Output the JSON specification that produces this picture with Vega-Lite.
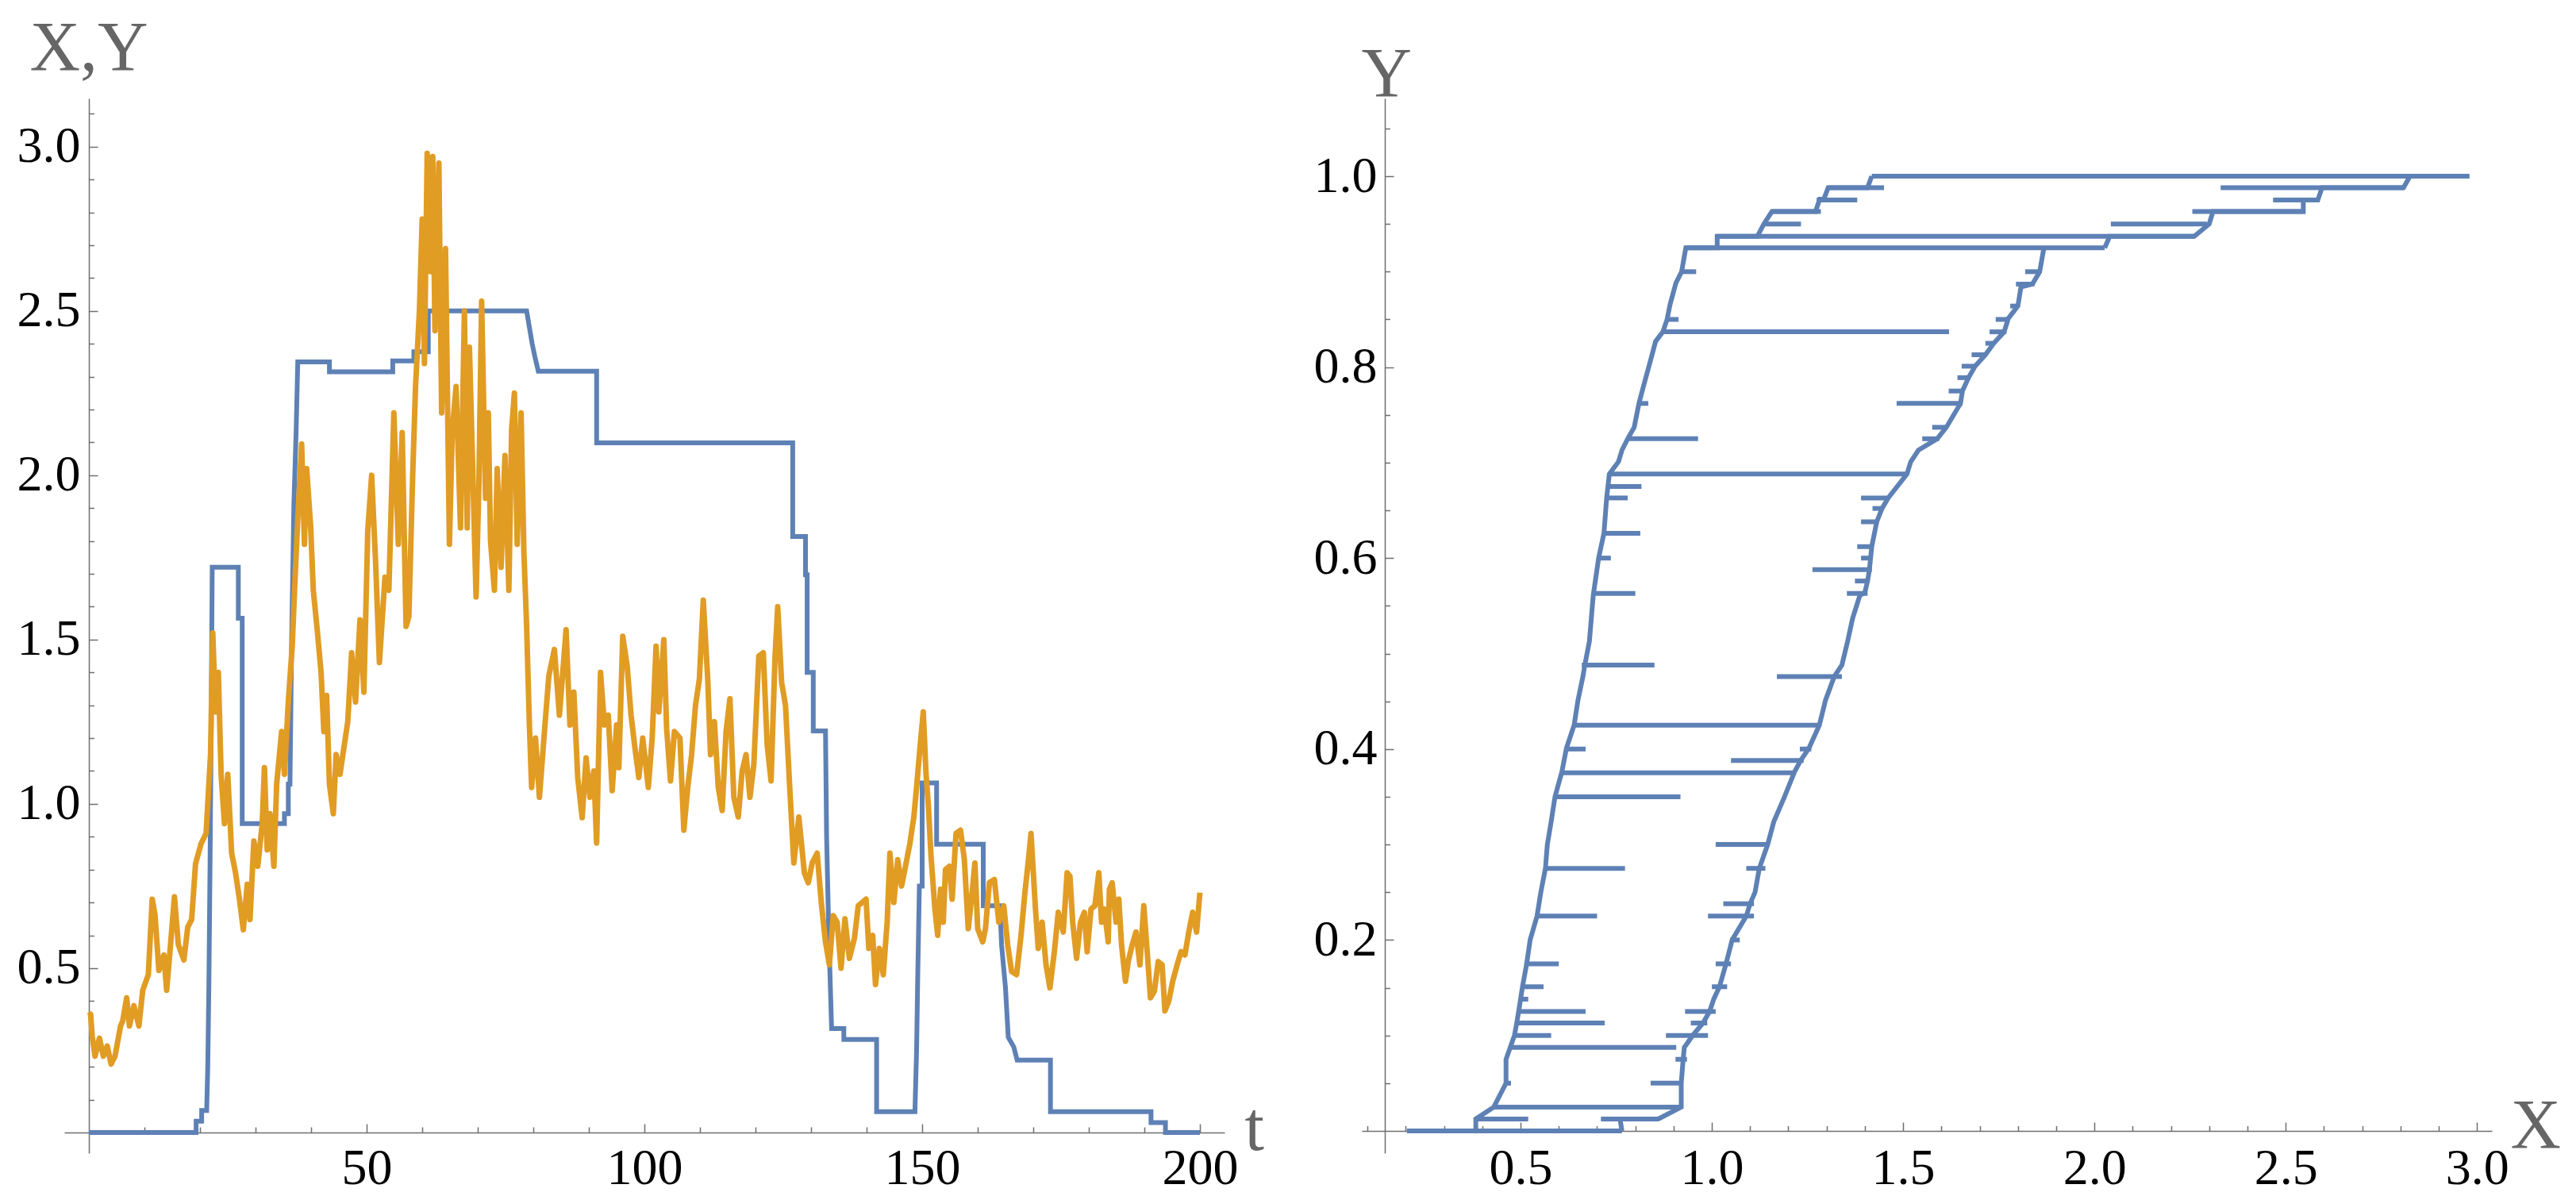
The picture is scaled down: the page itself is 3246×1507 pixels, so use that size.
{
  "$schema": "https://vega.github.io/schema/vega-lite/v6.json",
  "background": "white",
  "padding": {"left": 21, "top": 17, "right": 21, "bottom": 3},
  "bounds": "flush",
  "spacing": 173,
  "config": {
    "view": {"stroke": null},
    "axis": {
      "grid": false,
      "domainColor": "#6e6e6e",
      "domainWidth": 1.5,
      "tickColor": "#6e6e6e",
      "tickWidth": 1.5,
      "labelFont": "Liberation Serif, Times New Roman, serif",
      "labelFontSize": 64,
      "labelColor": "#000000",
      "labelOverlap": false,
      "labelFlush": false,
      "labelBound": false,
      "titleFont": "Liberation Serif, Times New Roman, serif",
      "titleFontSize": 88,
      "titleFontWeight": "normal",
      "titleColor": "#666666",
      "titleAngle": 0,
      "titleAlign": "left",
      "titleBaseline": "alphabetic",
      "titlePadding": 0
    }
  },
  "datasets": {
    "Y_t": [
      {"t":0,"v":0},{"t":19.3,"v":0},{"t":19.3,"v":0.034},{"t":20.3,"v":0.034},{"t":20.3,"v":0.067},{"t":21.2,"v":0.067},{"t":21.4,"v":0.2},{"t":21.6,"v":0.45},{"t":21.8,"v":0.8},{"t":22.0,"v":1.2},{"t":22.2,"v":1.72},{"t":26.9,"v":1.72},{"t":26.9,"v":1.565},{"t":27.6,"v":1.565},{"t":27.6,"v":0.94},{"t":35.2,"v":0.94},{"t":35.2,"v":0.97},{"t":35.9,"v":0.97},{"t":35.9,"v":1.06},{"t":36.2,"v":1.06},{"t":36.5,"v":1.5},{"t":36.9,"v":1.91},{"t":37.3,"v":2.13},{"t":37.6,"v":2.345},{"t":43.3,"v":2.345},{"t":43.3,"v":2.315},{"t":54.7,"v":2.315},{"t":54.7,"v":2.348},{"t":58.5,"v":2.348},{"t":58.5,"v":2.376},{"t":61.1,"v":2.376},{"t":61.1,"v":2.5},{"t":78.8,"v":2.5},{"t":79.3,"v":2.45},{"t":79.8,"v":2.4},{"t":80.3,"v":2.36},{"t":80.9,"v":2.317},{"t":91.4,"v":2.317},{"t":91.4,"v":2.099},{"t":126.7,"v":2.099},{"t":126.7,"v":1.814},{"t":129.0,"v":1.814},{"t":129.0,"v":1.697},{"t":129.3,"v":1.697},{"t":129.3,"v":1.4},{"t":130.4,"v":1.4},{"t":130.4,"v":1.222},{"t":132.6,"v":1.222},{"t":132.8,"v":0.9},{"t":133.2,"v":0.6},{"t":133.7,"v":0.316},{"t":135.9,"v":0.316},{"t":135.9,"v":0.283},{"t":141.8,"v":0.283},{"t":141.8,"v":0.063},{"t":148.7,"v":0.063},{"t":149.0,"v":0.25},{"t":149.2,"v":0.47},{"t":149.5,"v":0.75},{"t":150.0,"v":0.75},{"t":150.0,"v":1.064},{"t":152.6,"v":1.064},{"t":152.6,"v":0.877},{"t":161.0,"v":0.877},{"t":161.0,"v":0.69},{"t":164.0,"v":0.69},{"t":164.3,"v":0.57},{"t":165.0,"v":0.44},{"t":165.5,"v":0.29},{"t":166.5,"v":0.26},{"t":167.1,"v":0.22},{"t":173.1,"v":0.22},{"t":173.1,"v":0.063},{"t":191.2,"v":0.063},{"t":191.2,"v":0.03},{"t":193.8,"v":0.03},{"t":193.8,"v":0},{"t":200,"v":0}
    ],
    "X_t": [
      {"t":0,"v":0.355},{"t":0.3,"v":0.36},{"t":0.6,"v":0.293},{"t":1.1,"v":0.232},{"t":1.9,"v":0.287},{"t":2.6,"v":0.232},{"t":3.3,"v":0.263},{"t":4.0,"v":0.208},{"t":4.7,"v":0.232},{"t":5.7,"v":0.324},{"t":6.1,"v":0.34},{"t":6.8,"v":0.41},{"t":7.3,"v":0.324},{"t":8.1,"v":0.386},{"t":9.0,"v":0.324},{"t":9.7,"v":0.433},{"t":10.7,"v":0.48},{"t":11.4,"v":0.71},{"t":11.9,"v":0.663},{"t":12.6,"v":0.493},{"t":13.5,"v":0.54},{"t":14.0,"v":0.433},{"t":14.7,"v":0.572},{"t":15.4,"v":0.717},{"t":16.1,"v":0.572},{"t":17.1,"v":0.525},{"t":17.8,"v":0.625},{"t":18.5,"v":0.648},{"t":19.2,"v":0.818},{"t":20.2,"v":0.879},{"t":21.1,"v":0.91},{"t":21.9,"v":1.15},{"t":22.3,"v":1.52},{"t":22.8,"v":1.28},{"t":23.3,"v":1.4},{"t":23.8,"v":1.09},{"t":24.4,"v":0.94},{"t":25.0,"v":1.09},{"t":25.7,"v":0.85},{"t":26.4,"v":0.79},{"t":27.1,"v":0.71},{"t":27.8,"v":0.617},{"t":28.5,"v":0.755},{"t":29.0,"v":0.648},{"t":29.7,"v":0.887},{"t":30.4,"v":0.81},{"t":31.2,"v":0.94},{"t":31.6,"v":1.11},{"t":32.1,"v":0.86},{"t":32.6,"v":0.97},{"t":33.3,"v":0.81},{"t":33.8,"v":1.06},{"t":34.7,"v":1.22},{"t":35.2,"v":1.09},{"t":35.9,"v":1.31},{"t":36.6,"v":1.48},{"t":37.1,"v":1.68},{"t":37.6,"v":1.865},{"t":38.3,"v":2.095},{"t":38.8,"v":1.79},{"t":39.2,"v":2.02},{"t":39.9,"v":1.85},{"t":40.4,"v":1.65},{"t":41.1,"v":1.53},{"t":41.8,"v":1.4},{"t":42.3,"v":1.22},{"t":42.8,"v":1.33},{"t":43.3,"v":1.06},{"t":44.0,"v":0.97},{"t":44.5,"v":1.15},{"t":45.2,"v":1.09},{"t":45.9,"v":1.17},{"t":46.6,"v":1.25},{"t":47.3,"v":1.46},{"t":48.0,"v":1.31},{"t":48.8,"v":1.56},{"t":49.5,"v":1.34},{"t":50.2,"v":1.83},{"t":50.9,"v":2.0},{"t":51.6,"v":1.74},{"t":52.3,"v":1.43},
      {"t":53.3,"v":1.69},{"t":54.0,"v":1.65},{"t":54.9,"v":2.19},{"t":55.7,"v":1.79},{"t":56.4,"v":2.13},{"t":57.1,"v":1.54},{"t":57.6,"v":1.57},{"t":58.3,"v":2.006},{"t":58.8,"v":2.27},{"t":59.5,"v":2.5},{"t":60.0,"v":2.78},{"t":60.4,"v":2.34},{"t":60.9,"v":2.98},{"t":61.5,"v":2.62},{"t":61.9,"v":2.97},{"t":62.3,"v":2.44},{"t":63.0,"v":2.95},{"t":63.5,"v":2.19},{"t":64.2,"v":2.69},{"t":64.9,"v":1.79},{"t":65.4,"v":2.13},{"t":66.1,"v":2.27},{"t":66.9,"v":1.84},{"t":67.6,"v":2.5},{"t":68.1,"v":1.84},{"t":68.5,"v":2.39},{"t":69.0,"v":2.08},{"t":69.7,"v":1.63},{"t":70.2,"v":1.97},{"t":70.7,"v":2.53},{"t":71.4,"v":1.93},{"t":71.9,"v":2.19},{"t":72.3,"v":1.8},{"t":73.0,"v":1.65},{"t":73.5,"v":2.02},{"t":74.2,"v":1.72},{"t":74.9,"v":2.06},{"t":75.6,"v":1.65},{"t":76.1,"v":2.14},{"t":76.6,"v":2.25},{"t":77.1,"v":1.79},{"t":77.8,"v":2.19},{"t":78.3,"v":1.77},{"t":78.8,"v":1.54},{"t":79.3,"v":1.24},{"t":79.7,"v":1.05},{"t":80.4,"v":1.2},{"t":81.1,"v":1.02},{"t":82.1,"v":1.24},{"t":82.8,"v":1.39},{"t":83.8,"v":1.47},{"t":84.7,"v":1.27},{"t":85.4,"v":1.42},{"t":85.9,"v":1.53},{"t":86.6,"v":1.24},{"t":87.3,"v":1.34},{"t":88.0,"v":1.08},{"t":88.8,"v":0.958},{"t":89.5,"v":1.14},{"t":90.2,"v":1.02},{"t":90.9,"v":1.1},{"t":91.4,"v":0.881},{"t":92.1,"v":1.4},{"t":92.8,"v":1.24},{"t":93.5,"v":1.27},{"t":94.2,"v":1.04},{"t":95.0,"v":1.24},{"t":95.4,"v":1.11},{"t":96.1,"v":1.51},{"t":96.9,"v":1.42},{"t":97.6,"v":1.27},{"t":98.3,"v":1.17},{"t":99.0,"v":1.08},{"t":99.7,"v":1.2},
      {"t":100.7,"v":1.05},{"t":101.4,"v":1.2},{"t":102.1,"v":1.48},{"t":102.6,"v":1.28},{"t":103.5,"v":1.5},{"t":104.0,"v":1.23},{"t":104.7,"v":1.07},{"t":105.4,"v":1.22},{"t":106.4,"v":1.2},{"t":107.1,"v":0.92},{"t":107.8,"v":1.05},{"t":108.5,"v":1.15},{"t":109.2,"v":1.3},{"t":109.9,"v":1.38},{"t":110.6,"v":1.62},{"t":111.4,"v":1.38},{"t":111.9,"v":1.15},{"t":112.6,"v":1.25},{"t":113.3,"v":1.05},{"t":114.0,"v":0.98},{"t":114.7,"v":1.22},{"t":115.4,"v":1.32},{"t":116.1,"v":1.02},{"t":116.9,"v":0.96},{"t":117.6,"v":1.1},{"t":118.3,"v":1.15},{"t":119.0,"v":1.02},{"t":119.7,"v":1.12},{"t":120.6,"v":1.45},{"t":121.4,"v":1.46},{"t":122.1,"v":1.18},{"t":122.8,"v":1.07},{"t":123.5,"v":1.44},{"t":124.0,"v":1.6},{"t":124.7,"v":1.37},{"t":125.4,"v":1.3},{"t":126.1,"v":1.07},{"t":126.9,"v":0.82},{"t":127.8,"v":0.96},{"t":128.8,"v":0.79},{"t":129.5,"v":0.76},{"t":130.2,"v":0.82},{"t":131.1,"v":0.85},{"t":131.9,"v":0.69},{"t":132.6,"v":0.58},{"t":133.3,"v":0.51},{"t":134.0,"v":0.66},{"t":134.7,"v":0.64},{"t":135.4,"v":0.5},{"t":136.1,"v":0.65},{"t":136.9,"v":0.53},{"t":137.8,"v":0.59},{"t":138.5,"v":0.69},{"t":139.2,"v":0.7},{"t":139.9,"v":0.71},{"t":140.4,"v":0.56},{"t":141.1,"v":0.6},{"t":141.6,"v":0.45},{"t":142.3,"v":0.56},{"t":143.0,"v":0.48},{"t":143.7,"v":0.64},{"t":144.2,"v":0.85},{"t":144.9,"v":0.7},{"t":145.6,"v":0.83},{"t":146.3,"v":0.75},{"t":147.0,"v":0.81},{"t":147.8,"v":0.88},{"t":148.5,"v":0.96},
      {"t":149.0,"v":1.05},{"t":149.5,"v":1.15},{"t":150.2,"v":1.28},{"t":150.7,"v":1.09},{"t":151.1,"v":1.0},{"t":151.6,"v":0.84},{"t":152.3,"v":0.68},{"t":152.8,"v":0.6},{"t":153.3,"v":0.74},{"t":153.8,"v":0.64},{"t":154.2,"v":0.8},{"t":154.9,"v":0.81},{"t":155.4,"v":0.71},{"t":156.1,"v":0.91},{"t":156.9,"v":0.92},{"t":157.6,"v":0.83},{"t":158.3,"v":0.62},{"t":159.0,"v":0.73},{"t":159.5,"v":0.82},{"t":160.0,"v":0.62},{"t":160.9,"v":0.58},{"t":161.4,"v":0.62},{"t":162.1,"v":0.76},{"t":163.0,"v":0.77},{"t":163.8,"v":0.64},{"t":164.7,"v":0.69},{"t":165.4,"v":0.57},{"t":166.1,"v":0.49},{"t":167.0,"v":0.48},{"t":167.8,"v":0.6},{"t":168.5,"v":0.73},{"t":169.2,"v":0.84},{"t":169.6,"v":0.91},{"t":170.4,"v":0.68},{"t":170.9,"v":0.56},{"t":171.6,"v":0.64},{"t":172.3,"v":0.51},{"t":173.0,"v":0.44},{"t":173.8,"v":0.55},{"t":174.5,"v":0.67},{"t":175.4,"v":0.61},{"t":176.1,"v":0.79},{"t":176.6,"v":0.78},{"t":177.1,"v":0.64},{"t":177.8,"v":0.53},{"t":178.5,"v":0.64},{"t":179.2,"v":0.67},{"t":179.7,"v":0.55},{"t":180.4,"v":0.68},{"t":181.1,"v":0.69},{"t":181.8,"v":0.79},{"t":182.3,"v":0.64},{"t":182.8,"v":0.68},{"t":183.5,"v":0.58},{"t":183.7,"v":0.74},{"t":184.2,"v":0.76},{"t":184.9,"v":0.64},{"t":185.4,"v":0.71},{"t":185.9,"v":0.57},{"t":186.6,"v":0.46},{"t":187.1,"v":0.52},{"t":187.8,"v":0.57},{"t":188.5,"v":0.61},{"t":189.2,"v":0.51},{"t":189.9,"v":0.69},{"t":190.6,"v":0.53},{"t":191.1,"v":0.41},{"t":191.8,"v":0.43},{"t":192.5,"v":0.52},{"t":193.2,"v":0.51},{"t":193.7,"v":0.37},{"t":194.4,"v":0.4},{"t":195.1,"v":0.46},{"t":195.9,"v":0.51},{"t":196.6,"v":0.55},{"t":197.3,"v":0.54},{"t":198.0,"v":0.61},{"t":198.7,"v":0.67},{"t":199.4,"v":0.61},{"t":200.0,"v":0.73}
    ],
    "bound": [
      {"side":"L","X":0.383,"Y":0},{"side":"L","X":0.383,"Y":0.0125},{"side":"L","X":0.43,"Y":0.025},{"side":"L","X":0.462,"Y":0.05},{"side":"L","X":0.462,"Y":0.075},{"side":"L","X":0.473,"Y":0.0875},{"side":"L","X":0.484,"Y":0.1},{"side":"L","X":0.49,"Y":0.113},{"side":"L","X":0.495,"Y":0.125},{"side":"L","X":0.5,"Y":0.138},{"side":"L","X":0.505,"Y":0.151},{"side":"L","X":0.516,"Y":0.175},{"side":"L","X":0.525,"Y":0.2},{"side":"L","X":0.543,"Y":0.225},{"side":"L","X":0.553,"Y":0.25},{"side":"L","X":0.565,"Y":0.275},{"side":"L","X":0.57,"Y":0.3},{"side":"L","X":0.58,"Y":0.324},{"side":"L","X":0.59,"Y":0.35},{"side":"L","X":0.608,"Y":0.376},{"side":"L","X":0.62,"Y":0.401},{"side":"L","X":0.64,"Y":0.425},{"side":"L","X":0.65,"Y":0.451},{"side":"L","X":0.663,"Y":0.476},{"side":"L","X":0.668,"Y":0.488},{"side":"L","X":0.68,"Y":0.513},{"side":"L","X":0.69,"Y":0.561},{"side":"L","X":0.704,"Y":0.6},{"side":"L","X":0.718,"Y":0.626},{"side":"L","X":0.725,"Y":0.663},{"side":"L","X":0.732,"Y":0.688},{"side":"L","X":0.756,"Y":0.701},{"side":"L","X":0.765,"Y":0.713},{"side":"L","X":0.78,"Y":0.725},{"side":"L","X":0.797,"Y":0.737},{"side":"L","X":0.81,"Y":0.763},{"side":"L","X":0.826,"Y":0.787},{"side":"L","X":0.837,"Y":0.803},{"side":"L","X":0.853,"Y":0.827},{"side":"L","X":0.872,"Y":0.837},{"side":"L","X":0.883,"Y":0.85},{"side":"L","X":0.891,"Y":0.866},{"side":"L","X":0.906,"Y":0.888},{"side":"L","X":0.921,"Y":0.9},{"side":"L","X":0.932,"Y":0.925},{"side":"L","X":1.014,"Y":0.925},{"side":"L","X":1.014,"Y":0.937},{"side":"L","X":1.119,"Y":0.937},{"side":"L","X":1.136,"Y":0.95},{"side":"L","X":1.157,"Y":0.963},{"side":"L","X":1.271,"Y":0.963},{"side":"L","X":1.282,"Y":0.976},{"side":"L","X":1.293,"Y":0.976},{"side":"L","X":1.304,"Y":0.988},{"side":"L","X":1.407,"Y":0.988},{"side":"L","X":1.418,"Y":1.0},
      {"side":"R","X":0.765,"Y":0},{"side":"R","X":0.76,"Y":0.0125},{"side":"R","X":0.86,"Y":0.0125},{"side":"R","X":0.92,"Y":0.025},{"side":"R","X":0.92,"Y":0.05},{"side":"R","X":0.925,"Y":0.075},{"side":"R","X":0.928,"Y":0.0875},{"side":"R","X":0.95,"Y":0.1},{"side":"R","X":0.977,"Y":0.113},{"side":"R","X":0.994,"Y":0.125},{"side":"R","X":1.005,"Y":0.138},{"side":"R","X":1.02,"Y":0.151},{"side":"R","X":1.037,"Y":0.175},{"side":"R","X":1.053,"Y":0.2},{"side":"R","X":1.09,"Y":0.225},{"side":"R","X":1.1,"Y":0.238},{"side":"R","X":1.113,"Y":0.25},{"side":"R","X":1.124,"Y":0.275},{"side":"R","X":1.146,"Y":0.3},{"side":"R","X":1.162,"Y":0.324},{"side":"R","X":1.19,"Y":0.35},{"side":"R","X":1.216,"Y":0.376},{"side":"R","X":1.232,"Y":0.388},{"side":"R","X":1.254,"Y":0.401},{"side":"R","X":1.281,"Y":0.425},{"side":"R","X":1.297,"Y":0.451},{"side":"R","X":1.32,"Y":0.476},{"side":"R","X":1.34,"Y":0.488},{"side":"R","X":1.355,"Y":0.513},{"side":"R","X":1.368,"Y":0.537},{"side":"R","X":1.387,"Y":0.561},{"side":"R","X":1.4,"Y":0.564},{"side":"R","X":1.407,"Y":0.576},{"side":"R","X":1.412,"Y":0.588},{"side":"R","X":1.418,"Y":0.612},{"side":"R","X":1.431,"Y":0.638},{"side":"R","X":1.445,"Y":0.652},{"side":"R","X":1.461,"Y":0.663},{"side":"R","X":1.51,"Y":0.688},{"side":"R","X":1.52,"Y":0.701},{"side":"R","X":1.54,"Y":0.713},{"side":"R","X":1.589,"Y":0.725},{"side":"R","X":1.613,"Y":0.737},{"side":"R","X":1.65,"Y":0.762},{"side":"R","X":1.655,"Y":0.775},{"side":"R","X":1.671,"Y":0.789},{"side":"R","X":1.688,"Y":0.801},{"side":"R","X":1.715,"Y":0.813},{"side":"R","X":1.737,"Y":0.825},{"side":"R","X":1.764,"Y":0.837},{"side":"R","X":1.775,"Y":0.851},{"side":"R","X":1.8,"Y":0.864},{"side":"R","X":1.808,"Y":0.884},{"side":"R","X":1.838,"Y":0.887},{"side":"R","X":1.857,"Y":0.9},{"side":"R","X":1.868,"Y":0.925},
      {"side":"T","X":2.027,"Y":0.925},{"side":"T","X":2.04,"Y":0.937},{"side":"T","X":2.261,"Y":0.937},{"side":"T","X":2.3,"Y":0.95},{"side":"T","X":2.31,"Y":0.963},{"side":"T","X":2.546,"Y":0.963},{"side":"T","X":2.546,"Y":0.975},{"side":"T","X":2.584,"Y":0.975},{"side":"T","X":2.595,"Y":0.988},{"side":"T","X":2.808,"Y":0.988},{"side":"T","X":2.825,"Y":1.0},{"side":"T","X":2.98,"Y":1.0}
    ],
    "seg": [
      {"Y":0,"X":0.203,"X2":0.765},
      {"Y":0.0125,"X":0.38,"X2":0.52},{"Y":0.0125,"X":0.71,"X2":0.86},
      {"Y":0.025,"X":0.43,"X2":0.92},
      {"Y":0.05,"X":0.84,"X2":0.92},{"Y":0.05,"X":0.462,"X2":0.475},
      {"Y":0.075,"X":0.905,"X2":0.935},
      {"Y":0.0875,"X":0.476,"X2":0.907},
      {"Y":0.1,"X":0.484,"X2":0.58},{"Y":0.1,"X":0.88,"X2":0.99},
      {"Y":0.113,"X":0.49,"X2":0.72},{"Y":0.113,"X":0.945,"X2":0.988},
      {"Y":0.125,"X":0.5,"X2":0.67},{"Y":0.125,"X":0.93,"X2":1.01},
      {"Y":0.138,"X":0.5,"X2":0.52},
      {"Y":0.151,"X":0.5,"X2":0.56},{"Y":0.151,"X":1.0,"X2":1.04},
      {"Y":0.175,"X":0.51,"X2":0.6},{"Y":0.175,"X":1.01,"X2":1.05},
      {"Y":0.2,"X":1.048,"X2":1.073},
      {"Y":0.225,"X":0.54,"X2":0.7},{"Y":0.225,"X":0.99,"X2":1.11},
      {"Y":0.238,"X":1.03,"X2":1.11},
      {"Y":0.275,"X":0.567,"X2":0.773},{"Y":0.275,"X":1.09,"X2":1.14},
      {"Y":0.3,"X":1.01,"X2":1.15},
      {"Y":0.35,"X":0.59,"X2":0.918},
      {"Y":0.375,"X":0.606,"X2":1.22},
      {"Y":0.388,"X":1.05,"X2":1.24},
      {"Y":0.4,"X":0.62,"X2":0.67},{"Y":0.4,"X":1.23,"X2":1.26},
      {"Y":0.425,"X":0.64,"X2":1.28},
      {"Y":0.476,"X":1.17,"X2":1.34},
      {"Y":0.488,"X":0.66,"X2":0.85},
      {"Y":0.563,"X":0.69,"X2":0.8},{"Y":0.563,"X":1.353,"X2":1.407},
      {"Y":0.576,"X":1.374,"X2":1.407},
      {"Y":0.588,"X":1.263,"X2":1.418},
      {"Y":0.6,"X":0.704,"X2":0.736},{"Y":0.6,"X":1.39,"X2":1.418},
      {"Y":0.612,"X":1.38,"X2":1.423},
      {"Y":0.626,"X":0.718,"X2":0.813},
      {"Y":0.638,"X":1.39,"X2":1.436},
      {"Y":0.652,"X":1.42,"X2":1.448},
      {"Y":0.663,"X":0.729,"X2":0.78},{"Y":0.663,"X":1.39,"X2":1.464},
      {"Y":0.675,"X":0.732,"X2":0.816},
      {"Y":0.688,"X":0.729,"X2":1.51},
      {"Y":0.725,"X":0.78,"X2":0.964},{"Y":0.725,"X":1.55,"X2":1.594},
      {"Y":0.737,"X":1.576,"X2":1.613},
      {"Y":0.762,"X":0.805,"X2":0.834},{"Y":0.762,"X":1.483,"X2":1.655},
      {"Y":0.775,"X":1.619,"X2":1.655},
      {"Y":0.789,"X":1.642,"X2":1.675},
      {"Y":0.801,"X":1.653,"X2":1.688},
      {"Y":0.813,"X":1.679,"X2":1.715},
      {"Y":0.825,"X":1.715,"X2":1.737},
      {"Y":0.837,"X":0.872,"X2":1.62},{"Y":0.837,"X":1.726,"X2":1.77},
      {"Y":0.85,"X":0.881,"X2":0.913},{"Y":0.85,"X":1.742,"X2":1.775},
      {"Y":0.864,"X":1.78,"X2":1.8},
      {"Y":0.887,"X":1.795,"X2":1.843},
      {"Y":0.9,"X":0.918,"X2":0.959},{"Y":0.9,"X":1.819,"X2":1.857},
      {"Y":0.925,"X":0.932,"X2":2.027},
      {"Y":0.937,"X":1.014,"X2":2.261},
      {"Y":0.95,"X":1.136,"X2":1.233},{"Y":0.95,"X":2.043,"X2":2.294},
      {"Y":0.963,"X":1.157,"X2":1.285},{"Y":0.963,"X":2.256,"X2":2.551},
      {"Y":0.975,"X":1.274,"X2":1.38},{"Y":0.975,"X":2.467,"X2":2.584},
      {"Y":0.988,"X":1.304,"X2":1.45},{"Y":0.988,"X":2.33,"X2":2.808},
      {"Y":1.0,"X":1.418,"X2":2.98}
    ]
  },
  "hconcat": [
    {
      "width": 1462,
      "height": 1329,
      "encoding": {
        "x": {
          "field": "t",
          "type": "quantitative",
          "scale": {"domain": [-4.43, 204.43], "nice": false, "zero": false},
          "axis": {
            "offset": -26,
            "values": [10,20,30,40,50,60,70,80,90,100,110,120,130,140,150,160,170,180,190,200],
            "tickSize": {"condition": {"test": "datum.value % 50 === 0", "value": -11}, "value": -7},
            "labelPadding": 24,
            "labelExpr": "datum.value % 50 === 0 ? format(datum.value, 'd') : ''",
            "title": "t",
            "titleX": 1487,
            "titleY": 21
          }
        },
        "y": {
          "field": "v",
          "type": "quantitative",
          "scale": {"domain": [-0.063, 3.147], "nice": false, "zero": false},
          "axis": {
            "offset": -31,
            "values": [0.1,0.2,0.3,0.4,0.5,0.6,0.7,0.8,0.9,1.0,1.1,1.2,1.3,1.4,1.5,1.6,1.7,1.8,1.9,2.0,2.1,2.2,2.3,2.4,2.5,2.6,2.7,2.8,2.9,3.0,3.1],
            "tickSize": {"condition": {"test": "abs(datum.value * 2 - round(datum.value * 2)) < 0.000001", "value": -11}, "value": -6.5},
            "labelPadding": 22,
            "labelExpr": "abs(datum.value * 2 - round(datum.value * 2)) < 0.000001 ? format(datum.value, '.1f') : ''",
            "title": "X,Y",
            "titleX": -75,
            "titleY": -37
          }
        }
      },
      "layer": [
        {
          "data": {"name": "Y_t"},
          "mark": {"type": "line", "color": "#5E81B5", "strokeWidth": 6, "strokeJoin": "miter", "strokeCap": "butt"},
          "encoding": {"order": {"value": null}}
        },
        {
          "data": {"name": "X_t"},
          "mark": {"type": "line", "color": "#E19C24", "strokeWidth": 7, "strokeJoin": "round", "strokeCap": "butt"},
          "encoding": {"order": {"value": null}}
        }
      ]
    },
    {
      "width": 1424,
      "height": 1329,
      "encoding": {
        "x": {
          "field": "X",
          "type": "quantitative",
          "scale": {"domain": [0.085, 3.039], "nice": false, "zero": false},
          "axis": {
            "offset": -28,
            "values": [0.1,0.2,0.3,0.4,0.5,0.6,0.7,0.8,0.9,1.0,1.1,1.2,1.3,1.4,1.5,1.6,1.7,1.8,1.9,2.0,2.1,2.2,2.3,2.4,2.5,2.6,2.7,2.8,2.9,3.0],
            "tickSize": {"condition": {"test": "abs(datum.value * 2 - round(datum.value * 2)) < 0.000001", "value": -11}, "value": -6.5},
            "labelPadding": 26,
            "labelExpr": "abs(datum.value * 2 - round(datum.value * 2)) < 0.000001 ? format(datum.value, '.1f') : ''",
            "title": "X",
            "titleX": 1447,
            "titleY": 20
          }
        },
        "y": {
          "field": "Y",
          "type": "quantitative",
          "scale": {"domain": [-0.0233, 1.0815], "nice": false, "zero": false},
          "axis": {
            "offset": -29,
            "values": [0.05,0.1,0.15,0.2,0.25,0.3,0.35,0.4,0.45,0.5,0.55,0.6,0.65,0.7,0.75,0.8,0.85,0.9,0.95,1.0,1.05],
            "tickSize": {"condition": {"test": "abs(datum.value * 5 - round(datum.value * 5)) < 0.000001", "value": -11}, "value": -6.5},
            "labelPadding": 21,
            "labelExpr": "abs(datum.value * 5 - round(datum.value * 5)) < 0.000001 ? format(datum.value, '.1f') : ''",
            "title": "Y",
            "titleX": -30,
            "titleY": -4
          }
        }
      },
      "layer": [
        {
          "data": {"name": "seg"},
          "mark": {"type": "rule", "color": "#5E81B5", "strokeWidth": 6, "strokeCap": "butt"},
          "encoding": {"x2": {"field": "X2"}}
        },
        {
          "data": {"name": "bound"},
          "mark": {"type": "line", "color": "#5E81B5", "strokeWidth": 6, "strokeJoin": "miter", "strokeCap": "butt"},
          "encoding": {"detail": {"field": "side"}, "order": {"value": null}}
        }
      ]
    }
  ]
}
